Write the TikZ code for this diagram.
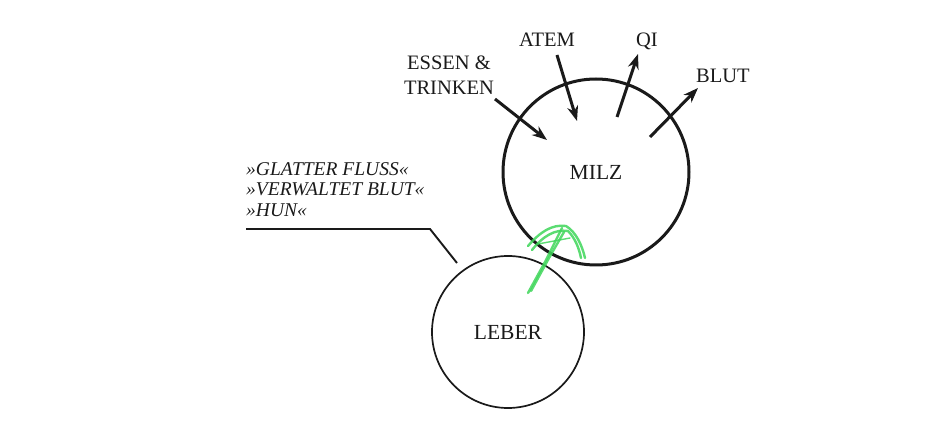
\documentclass[tikz,border=0pt]{standalone}
\usepackage{fontspec}
\setmainfont{Liberation Serif}
\usetikzlibrary{arrows.meta}
\definecolor{ink}{HTML}{1A1A1A}
\definecolor{hlgreen}{HTML}{3FD65A}
\tikzset{
  organ/.style={circle, draw=ink, text=ink, inner sep=0pt, font=\fontsize{21.5}{24}\selectfont},
  lbl/.style={text=ink, inner sep=0pt, font=\fontsize{20.5}{25}\selectfont, align=center},
  ital/.style={text=ink, inner sep=0pt, font=\fontsize{19.5}{20.8}\selectfont\itshape, align=left},
  flow/.style={draw=ink, line width=3pt, -{Stealth[length=15pt,width=11pt]}},
  lead/.style={draw=ink, line width=1.9pt},
  greenstroke/.style={draw=hlgreen, line width=2.4pt, line cap=round, line join=round, opacity=0.85}
}
\begin{document}
\begin{tikzpicture}[x=1pt,y=-1pt]
\useasboundingbox (0,0) rectangle (930,435);
\fill[white] (0,0) rectangle (930,435);

% circles
\node[organ, minimum size=186pt, line width=3pt] (milz) at (596,172) {MILZ};
\node[organ, minimum size=152pt, line width=1.7pt] (leber) at (508,332) {LEBER};

% labels
\node[lbl] (essen) at (449,75) {ESSEN \&\\TRINKEN};
\node[lbl] (atem) at (547,40) {ATEM};
\node[lbl] (qi) at (647,41) {QI};
\node[lbl] (blut) at (723,76) {BLUT};
\node[ital, anchor=north west] (attr) at (246,162) {»GLATTER FLUSS«\\»VERWALTET BLUT«\\»HUN«};

% arrow ends
\coordinate (e0) at (495,99);
\coordinate (e1) at (547,140);
\coordinate (a0) at (557,55);
\coordinate (a1) at (577,121);
\coordinate (q0) at (617,117);
\coordinate (q1) at (638,54);
\coordinate (b0) at (650,137);
\coordinate (b1) at (698,88);

\draw[flow] (e0) -- (e1);
\draw[flow] (a0) -- (a1);
\draw[flow] (q0) -- (q1);
\draw[flow] (b0) -- (b1);

% leader from attributes to leber
\coordinate (u0) at (246,229);
\coordinate (u1) at (430,229);
\coordinate (u2) at (457,263);
\draw[lead] (u0) -- (u1) -- (u2);

% hand-drawn green arrow
\coordinate (g0) at (528,293);
\coordinate (g1) at (562,228);
\draw[greenstroke] (g0) -- (545,262) -- (g1);
\draw[greenstroke] (531,291) -- (549,258) -- (564,232);
\draw[greenstroke] (528,246) .. controls (540,232) and (552,224) .. (566,226) .. controls (576,232) and (582,245) .. (585,258);
\draw[greenstroke] (532,250) .. controls (543,236) and (555,229) .. (568,231) .. controls (575,238) and (579,248) .. (581,258);
\draw[greenstroke, line width=1.4pt] (538,244) -- (570,238);
\end{tikzpicture}
\end{document}
